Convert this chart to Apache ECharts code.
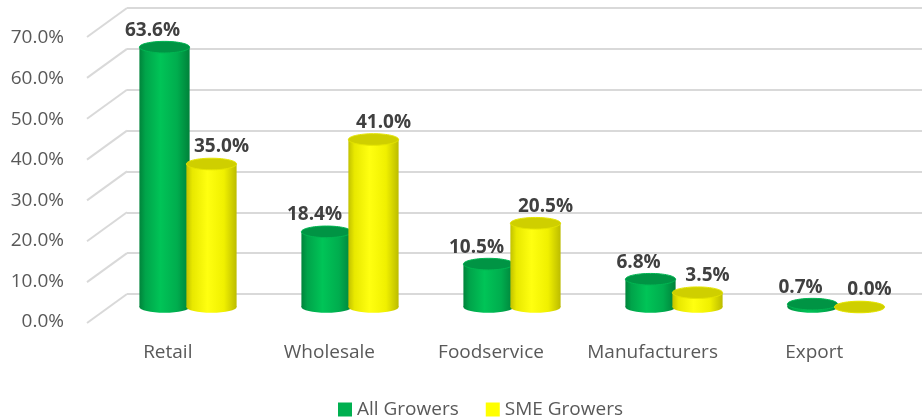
<!DOCTYPE html>
<html>
<head>
<meta charset="utf-8">
<script src="https://cdn.jsdelivr.net/npm/echarts@6/dist/echarts.min.js"></script>
<style>html,body{margin:0;padding:0;background:#fff}#c{width:922px;height:417px}</style>
</head>
<body>
<div id="c"></div>
<script>
const categories = ['Retail', 'Wholesale', 'Foodservice', 'Manufacturers', 'Export'];
const allGrowers = [63.6, 18.4, 10.5, 6.8, 0.7];
const smeGrowers = [35.0, 41.0, 20.5, 3.5, 0.0];
const yTicks = [0, 10, 20, 30, 40, 50, 60, 70];

const FONT = '"Open Sans", "Liberation Sans", sans-serif';
const DEPTH_DX = -40, DEPTH_DY = 29;

const palettes = {
  green: {
    body: [[0, '#00843b'], [0.12, '#00a44a'], [0.42, '#00c457'], [0.75, '#00ad4e'], [1, '#00823a']],
    top: '#009444', rim: '#00b652'
  },
  yellow: {
    body: [[0, '#c2c200'], [0.12, '#e8e800'], [0.42, '#ffff10'], [0.75, '#f0f000'], [1, '#bcbc00']],
    top: '#cfcf00', rim: '#e4e400'
  }
};

function cylinder(pal, sign, labelDx) {
  return function (params, api) {
    const cat = api.value(0), v = api.value(1);
    const base = api.coord([cat, 0]);
    const top = api.coord([cat, v]);
    const band = api.size([1, 0])[0];
    const w = band * 0.31, rx = w / 2, ry = rx * 0.23;
    const cx = base[0] + sign * band * 0.145;
    const grad = { type: 'linear', x: 0, y: 0, x2: 1, y2: 0,
      colorStops: pal.body.map(s => ({ offset: s[0], color: s[1] })) };
    return {
      type: 'group',
      children: [
        { type: 'ellipse', shape: { cx: cx, cy: base[1], rx: rx, ry: ry }, style: { fill: grad } },
        { type: 'rect', shape: { x: cx - rx, y: top[1], width: w, height: base[1] - top[1] }, style: { fill: grad } },
        { type: 'ellipse', shape: { cx: cx, cy: top[1], rx: rx, ry: ry }, style: { fill: pal.top, stroke: pal.rim, lineWidth: 1 } },
        { type: 'text', style: { text: v.toFixed(1) + '%', x: cx + labelDx, y: top[1] - 17,
            align: 'center', verticalAlign: 'middle', fontFamily: FONT, fontWeight: 'bold',
            fontSize: 19, fill: '#404040' } }
      ]
    };
  };
}

const chart = echarts.init(document.getElementById('c'));
chart.setOption({
  animation: false,
  backgroundColor: '#fff',
  grid: [
    { left: 127, right: 0, top: 8, bottom: 123 },   // back wall
    { left: 87, right: 27, top: 38, bottom: 95 },   // front plane (labels)
    { left: 107, right: 5, top: 21, bottom: 110 }   // bar plane
  ],
  xAxis: [
    { type: 'category', gridIndex: 0, data: categories, show: false },
    { type: 'category', gridIndex: 1, data: categories,
      axisLine: { show: false }, axisTick: { show: false },
      axisLabel: { interval: 0, hideOverlap: false, color: '#595959', fontFamily: FONT, fontSize: 19, margin: 21 } },
    { type: 'category', gridIndex: 2, data: categories, show: false }
  ],
  yAxis: [
    { type: 'value', gridIndex: 0, min: 0, max: 70, interval: 10,
      axisLine: { show: false }, axisTick: { show: false }, axisLabel: { show: false },
      splitLine: { lineStyle: { color: '#d9d9d9', width: 2 } } },
    { type: 'value', gridIndex: 1, min: 0, max: 70, interval: 10,
      axisLine: { show: false }, axisTick: { show: false }, splitLine: { show: false },
      axisLabel: { color: '#595959', fontFamily: FONT, fontSize: 19, margin: 23,
        formatter: v => v.toFixed(1) + '%' } },
    { type: 'value', gridIndex: 2, min: 0, max: 70, show: false, splitLine: { show: false } }
  ],
  legend: {
    left: 338, top: 400, padding: 0, itemWidth: 14, itemHeight: 14, itemGap: 27, icon: 'rect',
    textStyle: { color: '#595959', fontFamily: FONT, fontSize: 19 },
    data: ['All Growers', 'SME Growers']
  },
  series: [
    { type: 'custom', xAxisIndex: 0, yAxisIndex: 0, silent: true,
      data: yTicks.map(t => [0, t]),
      renderItem: function (params, api) {
        const p = api.coord([0, api.value(1)]);
        const x0 = params.coordSys.x;
        return { type: 'line', shape: { x1: x0, y1: p[1], x2: x0 + DEPTH_DX, y2: p[1] + DEPTH_DY },
          style: { stroke: '#d9d9d9', lineWidth: 2 } };
      } },
    { name: 'All Growers', type: 'custom', xAxisIndex: 2, yAxisIndex: 2,
      itemStyle: { color: '#00b050' },
      data: allGrowers.map((v, i) => [i, v]),
      renderItem: cylinder(palettes.green, -1, -12) },
    { name: 'SME Growers', type: 'custom', xAxisIndex: 2, yAxisIndex: 2,
      itemStyle: { color: '#ffff00' },
      data: smeGrowers.map((v, i) => [i, v]),
      renderItem: cylinder(palettes.yellow, 1, 10) }
  ]
});
</script>
</body>
</html>
